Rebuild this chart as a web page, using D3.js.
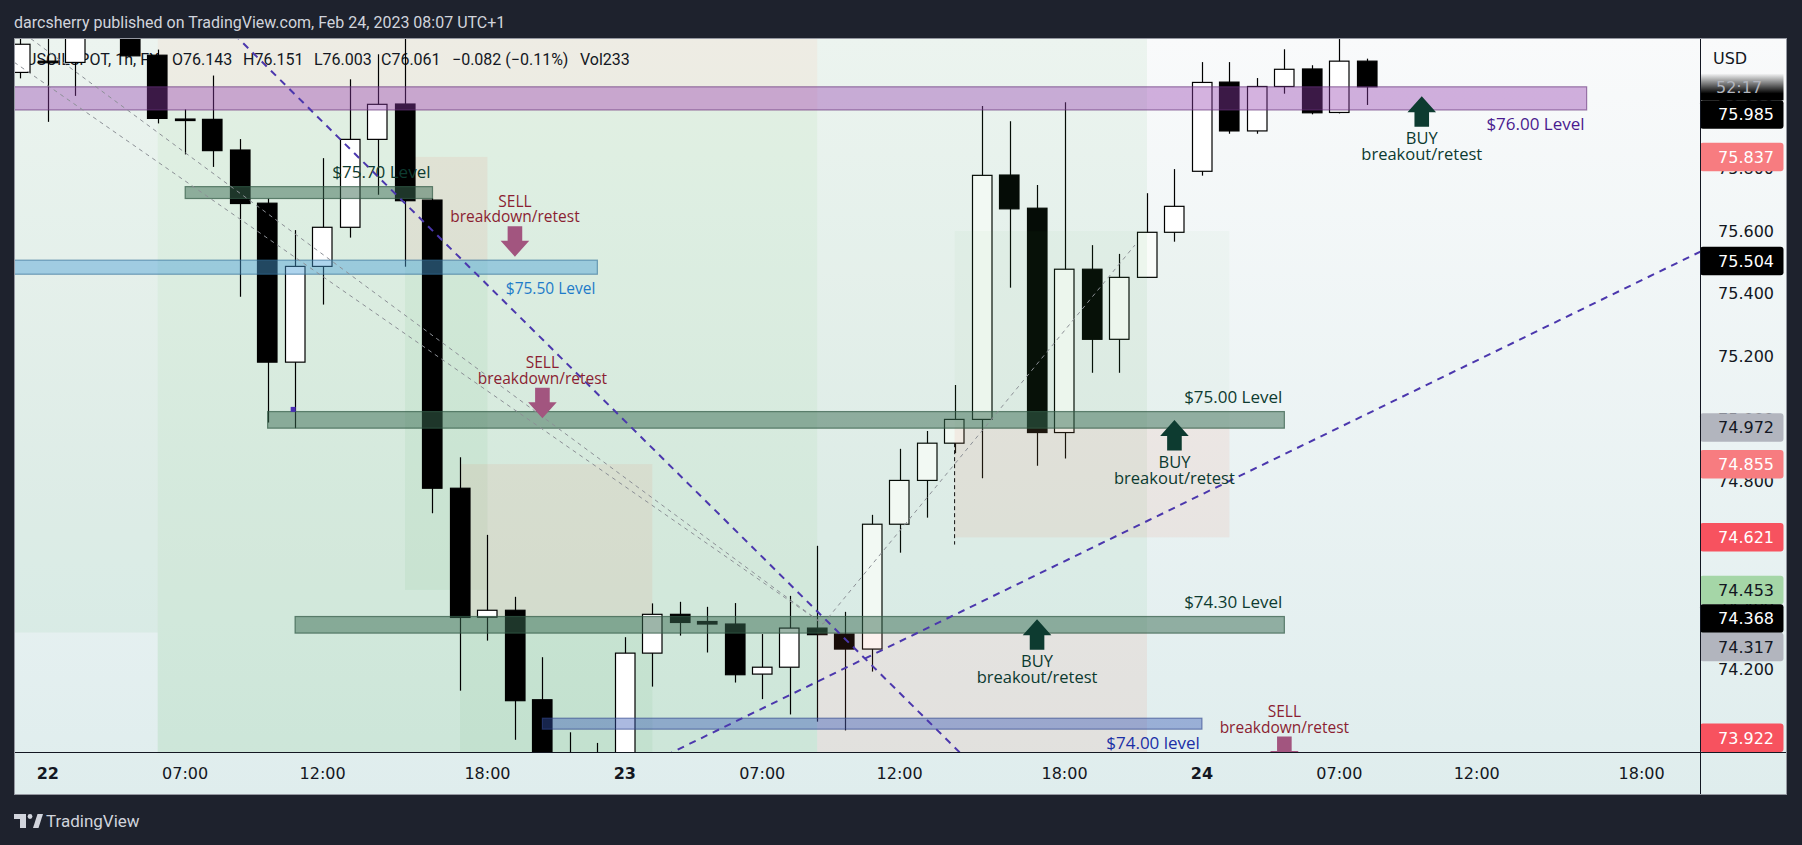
<!DOCTYPE html>
<html><head><meta charset="utf-8">
<script src="https://cdn.jsdelivr.net/npm/d3@7/dist/d3.min.js"></script>
<style>
html,body{margin:0;padding:0;background:#1e222d;overflow:hidden;}
svg{display:block;}
</style></head><body>
<script>
// ================= DATA =================
const symbolText = "USOILSPOT, 1h, FX";
const headerText = "darcsherry published on TradingView.com, Feb 24, 2023 08:07 UTC+1";
const lastVolume = 233;
const countdownText = "52:17";
const currency = "USD";

// hourly candles, bar index 0..49
const opens  = [76.107,76.143,76.139,76.270,76.290,76.162,75.958,75.957,75.859,75.689,
                75.181,75.487,75.612,75.893,76.006,75.699,74.778,74.366,74.388,74.102,
                73.850,73.830,73.870,74.251,74.375,74.352,74.344,74.184,74.206,74.331,
                74.312,74.264,74.663,74.803,74.922,74.998,75.779,75.673,74.956,75.478,
                75.254,75.452,75.596,75.791,76.076,75.920,76.062,76.118,75.979,76.143];
const highs  = [76.260,76.260,76.320,76.340,76.310,76.180,75.989,76.097,75.894,75.704,
                75.603,75.833,76.085,76.165,76.250,75.705,74.877,74.629,74.431,74.238,
                73.998,73.964,74.302,74.410,74.415,74.399,74.411,74.312,74.434,74.594,
                74.383,74.693,74.904,74.961,75.108,76.000,75.951,75.747,76.012,75.555,
                75.527,75.721,75.798,76.140,76.140,76.089,76.181,76.130,76.230,76.151];
const lows   = [76.088,75.949,76.032,76.240,76.158,75.944,75.845,75.805,75.390,74.988,
                74.970,75.365,75.579,75.716,75.486,74.698,74.131,74.291,73.974,73.780,
                73.760,73.750,73.850,74.144,74.307,74.253,74.157,74.104,74.055,74.032,
                74.004,74.192,74.572,74.684,74.890,74.810,75.419,74.850,74.873,75.147,
                75.147,75.450,75.566,75.777,75.911,75.911,76.039,75.973,75.976,76.003];
const closes = [76.197,76.138,76.270,76.300,76.160,75.960,75.955,75.857,75.688,75.181,
                75.487,75.612,75.893,76.005,75.697,74.778,74.365,74.388,74.099,73.840,
                73.820,73.870,74.251,74.375,74.349,74.344,74.182,74.206,74.331,74.310,
                74.264,74.663,74.803,74.922,74.998,75.778,75.671,74.956,75.478,75.254,
                75.452,75.596,75.679,76.075,75.920,76.062,76.117,75.978,76.143,76.061];

const timeTickIndex  = [1,6,11,17,22,27,32,38,43,48,53,59];
const timeTickLabels = ["22","07:00","12:00","18:00","23","07:00","12:00","18:00","24","07:00","12:00","18:00"];
const dayLabels = ["22","23","24"];
const priceTicks = [74.0,74.2,74.4,74.6,74.8,75.0,75.2,75.4,75.6,75.8,76.0,76.2];

// horizontal level bands
const levelNames  = ["$76.00 Level","$75.70 Level","$75.50 Level","$75.00 Level","$74.30 Level","$74.00 level"];
const levelTop    = [76.061,75.742,75.507,75.023,74.368,74.043];
const levelBottom = [75.987,75.704,75.462,74.970,74.315,74.008];
const levelStart  = [-3,6,-3,9,10,19];
const levelEnd    = [57,15,21,46,46,43];
const levelSide   = ["below","above","below","above","above","below"];
const levelKind   = ["purple","teal","blue","teal","teal","indigo"];

// position-tool zones
const zoneStart = [-3,5,5,14,14,16,16,29,29,34,34];
const zoneEnd   = [5,29,29,17,17,23,23,41,41,44,44];
const zoneLow   = [74.317,75.985,70.0,75.504,74.453,74.368,70.0,74.317,73.922,74.972,74.621];
const zoneHigh  = [77.0,77.0,75.985,75.837,75.504,74.855,74.368,77.0,74.317,75.600,74.972];
const zoneKind  = ["faint","cream","green","pink","soft","pink","soft","soft","pink","faintest","pink"];
const zoneLayer = ["back","back","back","back","back","back","back","front","front","front","front"];

// signals (arrow tip anchor)
const signalText  = ["SELL","SELL","SELL","BUY","BUY","BUY"];
const signalSub   = ["breakdown/retest","breakdown/retest","breakdown/retest","breakout/retest","breakout/retest","breakout/retest"];
const signalIndex = [18,19,46,37,42,51];
const signalPrice = [75.518,75.002,73.887,74.359,74.996,76.031];

// trend lines
const lineX1 = [8,28.4,0.35,-0.23,29.21,34];
const lineP1 = [76.21,74.134,76.217,76.14,74.344,74.922];
const lineX2 = [34,46.45,29.21,29.21,40.56,34];
const lineP2 = [73.95,74.906,74.344,74.344,75.555,74.598];
const lineKind = ["purple","purple","grey","grey","grey","black"];
const lineExtend = ["both","both","left","left","none","none"];

// anchor dot
const dotIndex = [9.93];
const dotPrice = [75.03];

// price-axis labels
const axisLabelPrice = [75.985,75.837,75.504,74.972,74.855,74.621,74.453,74.368,74.317,73.922];
const axisLabelKind  = ["last","stopLight","entry","grey","stopLight","stop","target","entry","grey","stop"];

// ================= LAYOUT =================
const W = 1802, H = 845;
const panel = {x0:14, x1:1787, y0:38, y1:795};
const plot  = {x0:14, x1:1700, y0:38, y1:752};

const x = d3.scaleLinear().domain([0,49]).range([20.3,1366.8]);
const y = d3.scaleLinear().domain([73.935,76.217]).range([plot.y1, plot.y0]);

const svg = d3.select("body").append("svg").attr("width",W).attr("height",H);
const defs = svg.append("defs");

const bg = defs.append("linearGradient").attr("id","bg").attr("x1",0).attr("y1",0).attr("x2",0).attr("y2",1);
bg.append("stop").attr("offset",0).attr("stop-color","#f9fafb");
bg.append("stop").attr("offset",1).attr("stop-color","#dfeded");
const cd = defs.append("linearGradient").attr("id","cd").attr("x1",0).attr("y1",0).attr("x2",0).attr("y2",1);
cd.append("stop").attr("offset",0).attr("stop-color","#000").attr("stop-opacity",0);
cd.append("stop").attr("offset",0.75).attr("stop-color","#000").attr("stop-opacity",1);
defs.append("clipPath").attr("id","clipPlot").append("rect")
  .attr("x",plot.x0).attr("y",plot.y0).attr("width",plot.x1-plot.x0).attr("height",plot.y1-plot.y0);

// header
svg.append("text").attr("x",14).attr("y",27.5).text(headerText)
  .attr("font-family","Roboto, 'Noto Sans', sans-serif").attr("font-size",16).attr("fill","#d1d4dc");

// panel background
svg.append("rect").attr("x",panel.x0).attr("y",panel.y0).attr("width",panel.x1-panel.x0).attr("height",panel.y1-panel.y0)
  .attr("fill","url(#bg)");

const P = svg.append("g").attr("clip-path","url(#clipPlot)");

const zoneFill = {
  faint:"rgba(76,175,80,0.07)",
  faintest:"rgba(76,175,80,0.035)",
  cream:"rgba(182,170,111,0.16)",
  green:"rgba(76,175,80,0.13)",
  pink:"rgba(236,120,90,0.10)",
  soft:"rgba(76,175,80,0.07)"
};
const zones = d3.range(zoneStart.length).map(i=>({s:zoneStart[i],e:zoneEnd[i],lo:zoneLow[i],hi:zoneHigh[i],k:zoneKind[i],layer:zoneLayer[i]}));
function drawZones(g, layer){
  g.selectAll("rect").data(zones.filter(z=>z.layer===layer)).join("rect")
    .attr("x",d=>x(d.s)).attr("width",d=>x(d.e)-x(d.s))
    .attr("y",d=>y(d.hi)).attr("height",d=>y(d.lo)-y(d.hi))
    .attr("fill",d=>zoneFill[d.k]);
}
drawZones(P.append("g"),"back");

// legend
const last = opens.length-1;
const chg = closes[last]-closes[last-1];
const legendParts = [
  [symbolText, 26],
  ["O"+opens[last].toFixed(3),172],
  ["H"+highs[last].toFixed(3),243],
  ["L"+lows[last].toFixed(3),314],
  ["C"+closes[last].toFixed(3),381],
  ["\u2212"+Math.abs(chg).toFixed(3)+" (\u2212"+Math.abs(chg/closes[last-1]*100).toFixed(2)+"%)",452],
  ["Vol"+lastVolume,580]
];
P.append("g").selectAll("text").data(legendParts).join("text")
  .attr("x",d=>d[1]).attr("y",65).text(d=>d[0])
  .attr("font-family","Roboto, sans-serif").attr("font-size",16).attr("fill","#131722");

// candles
const candles = d3.range(opens.length).map(i=>({i,o:opens[i],h:highs[i],l:lows[i],c:closes[i]}));
const bw = 20.5;
const gC = P.append("g");
gC.selectAll("line").data(candles).join("line")
  .attr("x1",d=>Math.round(x(d.i))+0.5).attr("x2",d=>Math.round(x(d.i))+0.5)
  .attr("y1",d=>y(d.h)).attr("y2",d=>y(d.l)).attr("stroke","#000").attr("stroke-width",1.2);
gC.selectAll("rect").data(candles).join("rect")
  .attr("x",d=>Math.round(x(d.i)-bw/2)+0.5).attr("width",bw-1)
  .attr("y",d=>y(Math.max(d.o,d.c))).attr("height",d=>Math.max(1.5,Math.abs(y(d.o)-y(d.c))))
  .attr("fill",d=>d.c>=d.o?"#ffffff":"#000000").attr("stroke","#000").attr("stroke-width",1.2);

drawZones(P.append("g"),"front");

// level bands
const bandFill = {purple:"rgba(148,62,174,0.40)", teal:"rgba(60,107,84,0.50)", blue:"rgba(76,159,215,0.45)", indigo:"rgba(54,88,180,0.42)"};
const bandStroke = {purple:"rgba(100,50,120,0.6)", teal:"rgba(50,90,70,0.7)", blue:"rgba(50,110,150,0.6)", indigo:"rgba(50,70,140,0.6)"};
const bandText = {purple:"#4a1b8f", teal:"#0e3b30", blue:"#1e7bc9", indigo:"#1b2fa6"};
const levels = d3.range(levelNames.length).map(i=>({n:levelNames[i],t:levelTop[i],b:levelBottom[i],s:levelStart[i],e:levelEnd[i],side:levelSide[i],k:levelKind[i]}));
const gL = P.append("g");
gL.selectAll("rect").data(levels).join("rect")
  .attr("x",d=>x(d.s)).attr("width",d=>x(d.e)-x(d.s))
  .attr("y",d=>y(d.t)).attr("height",d=>y(d.b)-y(d.t))
  .attr("fill",d=>bandFill[d.k]).attr("stroke",d=>bandStroke[d.k]).attr("stroke-width",1.2);

// trend lines
const lines = d3.range(lineX1.length).map(i=>{
  let a={i:lineX1[i],p:lineP1[i]}, b={i:lineX2[i],p:lineP2[i]};
  const slope = (b.p-a.p)/((b.i-a.i)||1e-9);
  if(lineExtend[i]==="both"||lineExtend[i]==="left"){ const ni=-5; a={i:ni,p:a.p+slope*(ni-a.i)}; }
  if(lineExtend[i]==="both"){ const ni=70; b={i:ni,p:b.p+slope*(ni-b.i)}; }
  return {a,b,k:lineKind[i]};
});
const lineStyle = {purple:["#4b37ad",2,"7 6"], grey:["#8c9096",1,"4 4"], black:["#111",1,"4 3"]};
P.append("g").selectAll("line").data(lines).join("line")
  .attr("x1",d=>x(d.a.i)).attr("y1",d=>y(d.a.p)).attr("x2",d=>x(d.b.i)).attr("y2",d=>y(d.b.p))
  .attr("stroke",d=>lineStyle[d.k][0]).attr("stroke-width",d=>lineStyle[d.k][1]).attr("stroke-dasharray",d=>lineStyle[d.k][2]);

P.append("g").selectAll("rect").data(dotIndex.map((d,i)=>({i:d,p:dotPrice[i]}))).join("rect")
  .attr("x",d=>x(d.i)-2.5).attr("y",d=>y(d.p)-2.5).attr("width",5).attr("height",5).attr("fill","#4a2fb5");

// level labels
gL.selectAll("text").data(levels).join("text")
  .attr("x",d=>x(d.e)-2)
  .attr("y",d=>d.side==="below"? y(d.b)+20 : y(d.t)-8.5)
  .attr("text-anchor","end").text(d=>d.n)
  .attr("font-family","'Open Sans', sans-serif").attr("font-size",d=>d.k==="blue"?15.5:17)
  .attr("fill",d=>bandText[d.k]);

// signals
const signals = d3.range(signalText.length).map(i=>({t:signalText[i],s:signalSub[i],i:signalIndex[i],p:signalPrice[i]}));
const gS = P.append("g");
gS.selectAll("path").data(signals).join("path")
  .attr("d",d=>{
    const tx=x(d.i), ty=y(d.p), dir = d.t==="BUY"?1:-1;
    const hw=14.3, bw2=7.3, hh=16, bh=30.5;
    return `M${tx},${ty} L${tx+hw},${ty+dir*hh} L${tx+bw2},${ty+dir*hh} L${tx+bw2},${ty+dir*bh} L${tx-bw2},${ty+dir*bh} L${tx-bw2},${ty+dir*hh} L${tx-hw},${ty+dir*hh} Z`;
  })
  .attr("fill",d=>d.t==="BUY"?"#0d3b30":"#a2557f");
gS.selectAll("text.a").data(signals).join("text").attr("class","a")
  .attr("x",d=>x(d.i)).attr("y",d=>d.t==="BUY"? y(d.p)+48 : y(d.p)-50)
  .attr("text-anchor","middle").text(d=>d.t)
  .attr("font-family","'Open Sans', sans-serif").attr("font-size",d=>d.t==="BUY"?16.5:15.5)
  .attr("fill",d=>d.t==="BUY"?"#0c3a30":"#8b1e32");
gS.selectAll("text.b").data(signals).join("text").attr("class","b")
  .attr("x",d=>x(d.i)).attr("y",d=>d.t==="BUY"? y(d.p)+63.5 : y(d.p)-34.5)
  .attr("text-anchor","middle").text(d=>d.s)
  .attr("font-family","'Open Sans', sans-serif").attr("font-size",d=>d.t==="BUY"?16.5:15.5)
  .attr("fill",d=>d.t==="BUY"?"#0c3a30":"#8b1e32");

// ===== price axis =====
const axisFont = "'DejaVu Sans', sans-serif";
const gA = svg.append("g");
const labStyle = {
  last:["#000000","#ffffff"], entry:["#000000","#ffffff"], grey:["#b2b5be","#131722"],
  stopLight:["#f77c80","#ffffff"], stop:["#f7525f","#ffffff"], target:["#a5d6a7","#131722"]
};
const lh = 28.5;
let labs = axisLabelPrice.map((p,i)=>({p,k:axisLabelKind[i],yy:y(p)+(axisLabelKind[i]==="last"?4:0)})).sort((a,b)=>a.yy-b.yy);
for(let i=1;i<labs.length;i++){ labs[i].yy=Math.max(labs[i].yy,labs[i-1].yy+lh); }
labs[labs.length-1].yy=Math.min(labs[labs.length-1].yy, plot.y1-lh/2);
const lastLab = labs.find(d=>d.k==="last");

// ticks: skip ticks whose text is fully hidden behind a coloured label
const visibleTicks = priceTicks.filter(p=>{
  const ty=y(p);
  if(ty<plot.y0+30 || ty>plot.y1) return false;
  return !labs.some(l=> ty-6>=l.yy-lh/2 && ty+6<=l.yy+lh/2);
});
gA.selectAll("text.tick").data(visibleTicks).join("text").attr("class","tick")
  .attr("x",1774).attr("y",d=>y(d)+5.8).attr("text-anchor","end").text(d=>d.toFixed(3))
  .attr("font-family",axisFont).attr("font-size",16).attr("fill","#131722");
gA.append("text").attr("x",1713).attr("y",64.3).text(currency)
  .attr("font-family",axisFont).attr("font-size",16).attr("fill","#131722");

gA.append("rect").attr("x",1700).attr("y",lastLab.yy-lh/2-27).attr("width",83.5).attr("height",27).attr("fill","url(#cd)");
gA.append("text").attr("x",1716).attr("y",lastLab.yy-lh/2-13.5+5.8).text(countdownText)
  .attr("font-family",axisFont).attr("font-size",16).attr("fill","#b2b5be");
gA.selectAll("rect.lab").data(labs).join("rect").attr("class","lab")
  .attr("x",1700).attr("y",d=>d.yy-lh/2).attr("width",83.5).attr("height",lh).attr("rx",3)
  .attr("fill",d=>labStyle[d.k][0]);
gA.selectAll("text.lab").data(labs).join("text").attr("class","lab")
  .attr("x",1774).attr("y",d=>d.yy+5.8).attr("text-anchor","end").text(d=>d.p.toFixed(3))
  .attr("font-family",axisFont).attr("font-size",16).attr("fill",d=>labStyle[d.k][1]);

// axis lines
svg.append("line").attr("x1",1700.5).attr("x2",1700.5).attr("y1",panel.y0).attr("y2",panel.y1).attr("stroke","#131722").attr("stroke-width",1);
svg.append("line").attr("x1",panel.x0).attr("x2",panel.x1).attr("y1",752.5).attr("y2",752.5).attr("stroke","#131722").attr("stroke-width",1);

// time axis
svg.append("g").selectAll("text").data(timeTickIndex.map((d,i)=>({i:d,t:timeTickLabels[i]}))).join("text")
  .attr("x",d=>x(d.i)).attr("y",779).attr("text-anchor","middle").text(d=>d.t)
  .attr("font-family",axisFont).attr("font-size",16)
  .attr("font-weight",d=>dayLabels.includes(d.t)?"bold":"normal").attr("fill","#131722");

// panel border
svg.append("rect").attr("x",panel.x0+0.5).attr("y",panel.y0+0.5).attr("width",panel.x1-panel.x0-1).attr("height",panel.y1-panel.y0-1)
  .attr("fill","none").attr("stroke","#9598a1").attr("stroke-width",1);

// TradingView logo
const lg = svg.append("g").attr("fill","#d1d4dc");
lg.append("path").attr("d","M14,814 H26 V828 H20 V819 H14 Z");
lg.append("circle").attr("cx",30).attr("cy",816.5).attr("r",2.4);
lg.append("path").attr("d","M33,828 L37.5,814 H43 L38.5,828 Z");
lg.append("text").attr("x",46).attr("y",827).text("TradingView")
  .attr("font-family","Roboto, sans-serif").attr("font-size",17).attr("fill","#d1d4dc");
</script>
</body></html>
